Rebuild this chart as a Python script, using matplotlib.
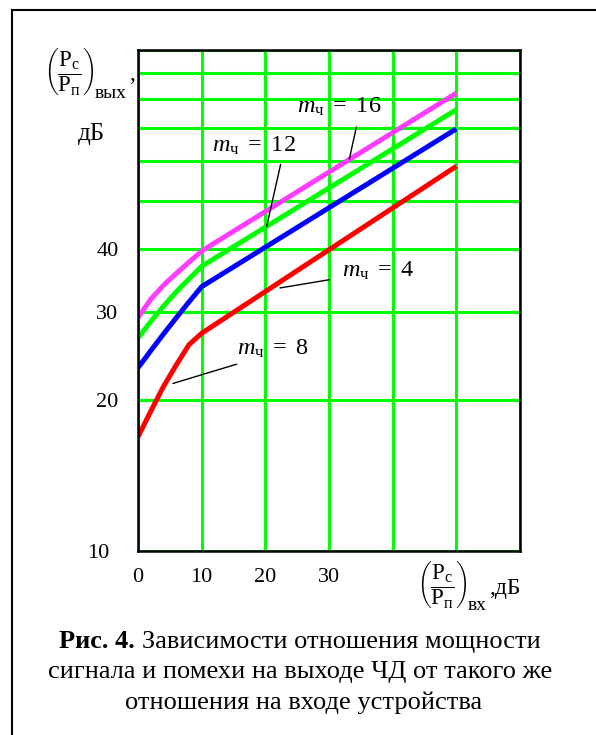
import matplotlib
matplotlib.use("Agg")
import matplotlib.pyplot as plt
from matplotlib.lines import Line2D
from matplotlib.ticker import NullLocator
from matplotlib.transforms import ScaledTranslation

plt.rcParams["font.family"] = ["Liberation Serif", "DejaVu Serif"]
plt.rcParams["mathtext.fontset"] = "custom"
plt.rcParams["mathtext.rm"] = "Liberation Serif"
plt.rcParams["mathtext.it"] = "Liberation Serif:italic"
plt.rcParams["mathtext.bf"] = "Liberation Serif:bold"

# input SNR, dB
snr_in = [0, 2, 4, 6, 8, 10, 50]
# output SNR, dB, one curve per colour
out_magenta = [29.2, 31.8, 33.9, 35.8, 37.7, 39.7, 82.0]
out_green = [26.6, 28.7, 30.8, 32.9, 34.9, 37.0, 76.0]
out_blue = [23.2, 25.1, 27.1, 29.2, 31.4, 33.7, 69.6]
out_red = [16.9, 19.0, 21.3, 23.5, 25.8, 27.2, 58.6]
curve_colors = ["#ff3cff", "#00ff00", "#0000ff", "#ff0000"]

x_ticks = [0, 10, 20, 30, 40, 50, 60]
x_tick_labels = ["0", "10", "20", "30", "", "", ""]
y_ticks = [10, 20, 30, 40, 50, 60, 70, 80, 90, 100]
y_tick_labels = ["10", "20", "30", "40", "", "", "", "", "", ""]

# curve labels: m value, text pos (x, y), pointer from, pointer to
m_labels = ["16", "12", "4", "8"]
label_pos = [(25.0, 77.0), (11.6, 64.5), (32.1, 36.2), (15.5, 25.3)]
pointer_from = [(34.3, 70.2), (22.4, 59.1), (30.1, 34.8), (15.5, 23.6)]
pointer_to = [(33.2, 60.6), (20.2, 44.4), (22.3, 33.5), (5.5, 21.6)]

caption_bold = "Рис. 4."
caption_lines = ["Зависимости отношения мощности",
                 "сигнала и помехи на выходе ЧД от такого же",
                 "отношения на входе устройства"]

W, H = 596, 735
fig = plt.figure(figsize=(W / 100, H / 100), dpi=100)


def fx(px):
    return px / W


def fy(py):
    return 1 - py / H


ax = fig.add_axes([fx(138), fy(551), (520 - 138) / W, (551 - 50) / H])
ax.set_yscale("log")
ax.set_xlim(0, 60)
ax.set_ylim(10, 100)
ax.set_xticks(x_ticks)
ax.set_xticklabels(x_tick_labels)
ax.set_yticks(y_ticks)
ax.set_yticklabels(y_tick_labels)
ax.yaxis.set_minor_locator(NullLocator())
ax.tick_params(length=0, labelsize=16)
ax.tick_params(axis="x", pad=12)
ax.tick_params(axis="y", pad=14)
ax.grid(True, color="#00ff00", lw=2.2)
ax.set_axisbelow(True)
for s in ax.spines.values():
    s.set_linewidth(1.8)
    s.set_color("black")

# the "10" label sits a bit further left in the original
lab10 = ax.get_yticklabels()[0]
lab10.set_transform(lab10.get_transform() +
                    ScaledTranslation(-0.09, 0, fig.dpi_scale_trans))

for ys, c in zip([out_magenta, out_green, out_blue, out_red], curve_colors):
    ax.plot(snr_in, ys, color=c, lw=3.6, solid_capstyle="butt")

for m, pos, p0, p1 in zip(m_labels, label_pos, pointer_from, pointer_to):
    ax.text(pos[0], pos[1], r"$m_{\mathrm{ч}}\ =\ " + m + "$", fontsize=17.5,
            ha="left", va="center")
    ax.annotate("", xy=p1, xytext=p0,
                arrowprops=dict(arrowstyle="-", color="black", lw=1.0,
                                shrinkA=0, shrinkB=0))

# axis titles
frac = r"$\left(\dfrac{\mathrm{P_{с}}}{\mathrm{P_{п}}}\right)$"
fig.text(fx(44), fy(71), frac, fontsize=16.5, ha="left", va="center")
fig.text(fx(95), fy(98), "вых", fontsize=14, ha="left", va="baseline")
fig.text(fx(129), fy(80), ",", fontsize=17, ha="left", va="baseline")
fig.text(fx(91), fy(134), "дБ", fontsize=18, ha="center", va="center")

fig.text(fx(417), fy(584), frac, fontsize=16.5, ha="left", va="center")
fig.text(fx(468), fy(610), "вх", fontsize=14, ha="left", va="baseline")
fig.text(fx(489), fy(594), ",дБ", fontsize=17, ha="left", va="baseline")

# caption
cap_size = 19
t_b = fig.text(0, fy(648), caption_bold + " ", fontsize=cap_size,
               fontweight="bold", ha="left", va="baseline")
t_r = fig.text(0, fy(648), caption_lines[0], fontsize=cap_size,
               ha="left", va="baseline")
fig.canvas.draw()
r = fig.canvas.get_renderer()
w_b = t_b.get_window_extent(r).width
w_r = t_r.get_window_extent(r).width
x0 = 300 - (w_b + w_r) / 2
t_b.set_x(fx(x0))
t_r.set_x(fx(x0 + w_b))
fig.text(fx(300), fy(678), caption_lines[1], fontsize=cap_size,
         ha="center", va="baseline")
fig.text(fx(304), fy(709), caption_lines[2], fontsize=cap_size,
         ha="center", va="baseline")

# outer frame
fig.add_artist(Line2D([fx(12), fx(12)], [fy(10), 0], color="black", lw=1.5))
fig.add_artist(Line2D([fx(12), 1], [fy(10), fy(10)], color="black", lw=1.5))

fig.savefig("out.png", dpi=100)
